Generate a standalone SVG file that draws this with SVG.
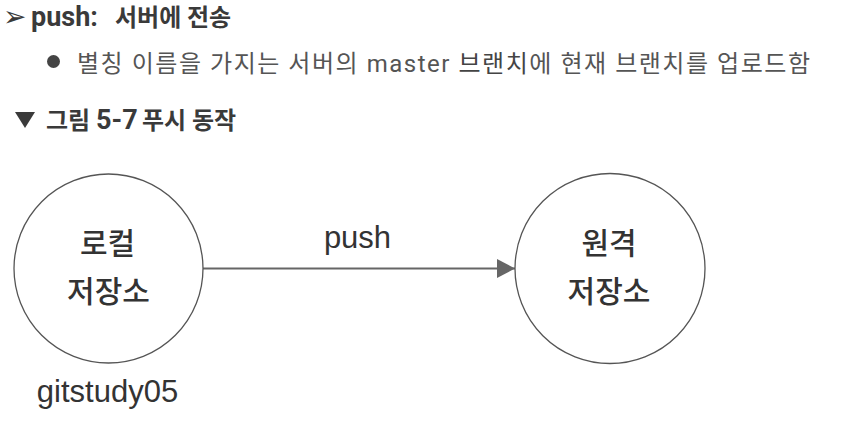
<svg xmlns="http://www.w3.org/2000/svg" width="857" height="441" viewBox="0 0 857 441">
<defs>
<style>
.kr{font-family:"Roboto","Noto Sans CJK KR",sans-serif;}
.hd{font-weight:bold;font-size:24px;fill:#3a3a3a;}
.big{font-size:27px;}
.body{font-size:24px;fill:#555555;}
.node{fill:#ffffff;stroke:#555555;stroke-width:1.3;}
.nlabel{font-family:"Noto Sans CJK KR",sans-serif;font-size:30px;font-weight:500;fill:#333333;text-anchor:middle;}
.lat{font-family:"Liberation Sans",Arial,sans-serif;font-size:31px;fill:#333333;text-anchor:middle;}
</style>
<marker id="ah" markerWidth="20" markerHeight="20" refX="18" refY="9.5" orient="auto" markerUnits="userSpaceOnUse">
<path d="M0,0 L18,9.5 L0,19 Z" fill="#666666"/>
</marker>
</defs>
<rect width="857" height="441" fill="#ffffff"/>
<g id="header">
<text x="3" y="26" font-family="DejaVu Sans,sans-serif" font-size="28" fill="#3a3a3a">➢</text>
<text y="26" class="kr hd"><tspan x="31" class="big">push:</tspan><tspan x="115">서버에</tspan><tspan x="187">전송</tspan></text>
<circle cx="53.5" cy="61.5" r="6.5" fill="#444444"/>
<text x="77" y="72" class="kr body" textLength="733" lengthAdjust="spacing">별칭 이름을 가지는 서버의 master <tspan fill="#444444">브랜치</tspan>에 현재 브랜치를 업로드함</text>
<path d="M15,112 L35,112 L25,128 Z" fill="#3a3a3a"/>
<text y="129" class="kr hd"><tspan x="46">그림</tspan><tspan x="96" class="big">5-7</tspan><tspan x="142">푸시</tspan><tspan x="192">동작</tspan></text>
</g>
<g id="connectors">
<line x1="203" y1="268.5" x2="515" y2="268.5" stroke="#666666" stroke-width="2.2" marker-end="url(#ah)"/>
<text x="357.5" y="248" class="lat">push</text>
</g>
<g id="local">
<circle cx="108.5" cy="268.5" r="94.5" class="node"/>
<text x="107.5" y="254" class="nlabel">로컬</text>
<text x="108.5" y="302" class="nlabel">저장소</text>
<text x="107.5" y="402" class="lat">gitstudy05</text>
</g>
<g id="remote">
<circle cx="610" cy="268.5" r="95" class="node"/>
<text x="609" y="254" class="nlabel">원격</text>
<text x="609" y="302" class="nlabel">저장소</text>
</g>
</svg>
